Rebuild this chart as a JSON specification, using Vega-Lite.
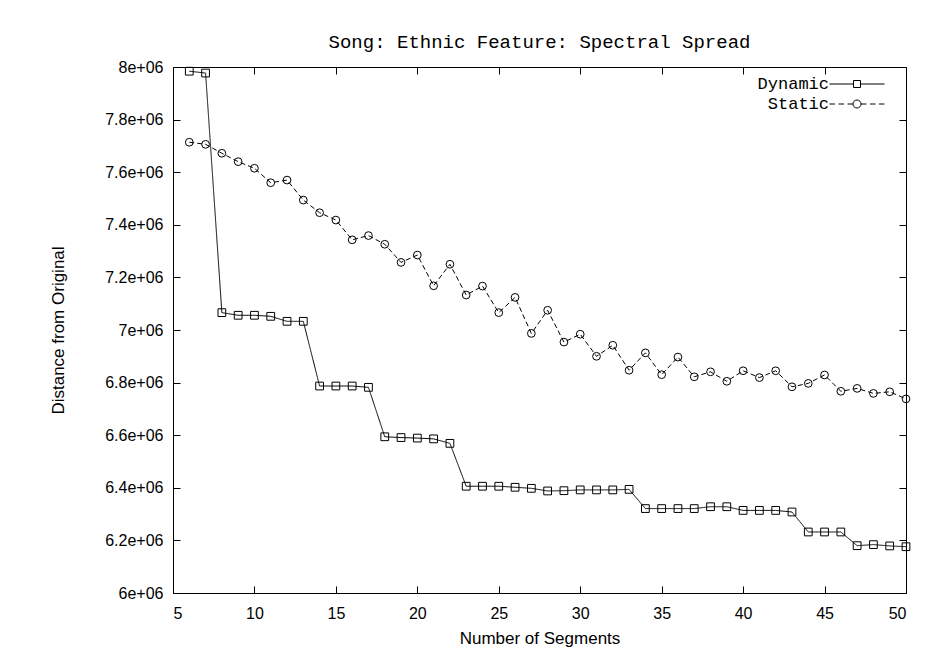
{
  "$schema": "https://vega.github.io/schema/vega-lite/v6.json",
  "width": 733,
  "height": 526,
  "autosize": {"type": "none"},
  "padding": {"left": 173, "top": 67, "right": 26, "bottom": 62},
  "background": "white",
  "title": {
    "text": "Song: Ethnic Feature: Spectral Spread",
    "font": "Liberation Mono",
    "fontSize": 19,
    "fontWeight": "normal",
    "color": "black",
    "anchor": "middle",
    "baseline": "alphabetic",
    "offset": -8
  },
  "config": {
    "view": {"stroke": "black", "strokeWidth": 1},
    "axis": {
      "grid": false,
      "domainColor": "black",
      "tickColor": "black",
      "labelColor": "black",
      "titleColor": "black",
      "labelFont": "Liberation Sans",
      "labelFontSize": 16,
      "titleFont": "Liberation Sans",
      "titleFontSize": 17,
      "titleFontWeight": "normal"
    }
  },
  "data": {
    "values": [
      {"n": 6, "series": "Dynamic", "value": 7984000},
      {"n": 7, "series": "Dynamic", "value": 7977000},
      {"n": 8, "series": "Dynamic", "value": 7066000},
      {"n": 9, "series": "Dynamic", "value": 7056000},
      {"n": 10, "series": "Dynamic", "value": 7056000},
      {"n": 11, "series": "Dynamic", "value": 7052000},
      {"n": 12, "series": "Dynamic", "value": 7033000},
      {"n": 13, "series": "Dynamic", "value": 7033000},
      {"n": 14, "series": "Dynamic", "value": 6787000},
      {"n": 15, "series": "Dynamic", "value": 6787000},
      {"n": 16, "series": "Dynamic", "value": 6787000},
      {"n": 17, "series": "Dynamic", "value": 6782000},
      {"n": 18, "series": "Dynamic", "value": 6594000},
      {"n": 19, "series": "Dynamic", "value": 6591000},
      {"n": 20, "series": "Dynamic", "value": 6589000},
      {"n": 21, "series": "Dynamic", "value": 6586000},
      {"n": 22, "series": "Dynamic", "value": 6569000},
      {"n": 23, "series": "Dynamic", "value": 6406000},
      {"n": 24, "series": "Dynamic", "value": 6406000},
      {"n": 25, "series": "Dynamic", "value": 6406000},
      {"n": 26, "series": "Dynamic", "value": 6402000},
      {"n": 27, "series": "Dynamic", "value": 6398000},
      {"n": 28, "series": "Dynamic", "value": 6388000},
      {"n": 29, "series": "Dynamic", "value": 6389000},
      {"n": 30, "series": "Dynamic", "value": 6392000},
      {"n": 31, "series": "Dynamic", "value": 6392000},
      {"n": 32, "series": "Dynamic", "value": 6392000},
      {"n": 33, "series": "Dynamic", "value": 6394000},
      {"n": 34, "series": "Dynamic", "value": 6321000},
      {"n": 35, "series": "Dynamic", "value": 6321000},
      {"n": 36, "series": "Dynamic", "value": 6321000},
      {"n": 37, "series": "Dynamic", "value": 6321000},
      {"n": 38, "series": "Dynamic", "value": 6328000},
      {"n": 39, "series": "Dynamic", "value": 6328000},
      {"n": 40, "series": "Dynamic", "value": 6314000},
      {"n": 41, "series": "Dynamic", "value": 6314000},
      {"n": 42, "series": "Dynamic", "value": 6314000},
      {"n": 43, "series": "Dynamic", "value": 6308000},
      {"n": 44, "series": "Dynamic", "value": 6232000},
      {"n": 45, "series": "Dynamic", "value": 6232000},
      {"n": 46, "series": "Dynamic", "value": 6232000},
      {"n": 47, "series": "Dynamic", "value": 6180000},
      {"n": 48, "series": "Dynamic", "value": 6184000},
      {"n": 49, "series": "Dynamic", "value": 6179000},
      {"n": 50, "series": "Dynamic", "value": 6176000},
      {"n": 6, "series": "Static", "value": 7714000},
      {"n": 7, "series": "Static", "value": 7706000},
      {"n": 8, "series": "Static", "value": 7672000},
      {"n": 9, "series": "Static", "value": 7640000},
      {"n": 10, "series": "Static", "value": 7615000},
      {"n": 11, "series": "Static", "value": 7560000},
      {"n": 12, "series": "Static", "value": 7570000},
      {"n": 13, "series": "Static", "value": 7494000},
      {"n": 14, "series": "Static", "value": 7446000},
      {"n": 15, "series": "Static", "value": 7418000},
      {"n": 16, "series": "Static", "value": 7343000},
      {"n": 17, "series": "Static", "value": 7359000},
      {"n": 18, "series": "Static", "value": 7326000},
      {"n": 19, "series": "Static", "value": 7257000},
      {"n": 20, "series": "Static", "value": 7285000},
      {"n": 21, "series": "Static", "value": 7168000},
      {"n": 22, "series": "Static", "value": 7250000},
      {"n": 23, "series": "Static", "value": 7133000},
      {"n": 24, "series": "Static", "value": 7167000},
      {"n": 25, "series": "Static", "value": 7066000},
      {"n": 26, "series": "Static", "value": 7124000},
      {"n": 27, "series": "Static", "value": 6987000},
      {"n": 28, "series": "Static", "value": 7075000},
      {"n": 29, "series": "Static", "value": 6954000},
      {"n": 30, "series": "Static", "value": 6984000},
      {"n": 31, "series": "Static", "value": 6900000},
      {"n": 32, "series": "Static", "value": 6942000},
      {"n": 33, "series": "Static", "value": 6847000},
      {"n": 34, "series": "Static", "value": 6913000},
      {"n": 35, "series": "Static", "value": 6830000},
      {"n": 36, "series": "Static", "value": 6897000},
      {"n": 37, "series": "Static", "value": 6822000},
      {"n": 38, "series": "Static", "value": 6841000},
      {"n": 39, "series": "Static", "value": 6805000},
      {"n": 40, "series": "Static", "value": 6845000},
      {"n": 41, "series": "Static", "value": 6819000},
      {"n": 42, "series": "Static", "value": 6845000},
      {"n": 43, "series": "Static", "value": 6784000},
      {"n": 44, "series": "Static", "value": 6797000},
      {"n": 45, "series": "Static", "value": 6829000},
      {"n": 46, "series": "Static", "value": 6767000},
      {"n": 47, "series": "Static", "value": 6778000},
      {"n": 48, "series": "Static", "value": 6759000},
      {"n": 49, "series": "Static", "value": 6765000},
      {"n": 50, "series": "Static", "value": 6738000}
    ]
  },
  "layer": [
    {
      "mark": {"type": "line", "color": "black", "strokeWidth": 1},
      "encoding": {
        "x": {
          "field": "n",
          "type": "quantitative",
          "scale": {"domain": [5, 50], "nice": false, "zero": false},
          "axis": {
            "orient": "bottom",
            "values": [5, 10, 15, 20, 25, 30, 35, 40, 45, 50],
            "tickSize": -7,
            "labelPadding": 19,
            "title": "Number of Segments",
            "titlePadding": 9
          }
        },
        "y": {
          "field": "value",
          "type": "quantitative",
          "scale": {"domain": [6000000, 8000000], "nice": false, "zero": false},
          "axis": {
            "orient": "left",
            "values": [6000000, 6200000, 6400000, 6600000, 6800000, 7000000, 7200000, 7400000, 7600000, 7800000, 8000000],
            "tickSize": -7,
            "labelPadding": 17,
            "labelExpr": "replace(format(datum.value, '.2~e'), 'e+', 'e+0')",
            "title": "Distance from Original",
            "titlePadding": 37
          }
        },
        "detail": {"field": "series", "type": "nominal"},
        "strokeDash": {
          "condition": {"test": "datum.series === 'Static'", "value": [5, 3]},
          "value": [1, 0]
        }
      }
    },
    {
      "mark": {"type": "point", "filled": false, "strokeWidth": 1, "size": 60, "opacity": 1},
      "encoding": {
        "x": {
          "field": "n",
          "type": "quantitative",
          "scale": {"domain": [5, 50], "nice": false, "zero": false},
          "axis": {
            "orient": "top",
            "values": [5, 10, 15, 20, 25, 30, 35, 40, 45, 50],
            "tickSize": -7,
            "labels": false,
            "title": null
          }
        },
        "y": {
          "field": "value",
          "type": "quantitative",
          "scale": {"domain": [6000000, 8000000], "nice": false, "zero": false},
          "axis": {
            "orient": "right",
            "values": [6000000, 6200000, 6400000, 6600000, 6800000, 7000000, 7200000, 7400000, 7600000, 7800000, 8000000],
            "tickSize": -7,
            "labels": false,
            "title": null
          }
        },
        "shape": {
          "condition": {"test": "datum.series === 'Dynamic'", "value": "square"},
          "value": "circle"
        },
        "color": {
          "field": "series",
          "type": "nominal",
          "scale": {"domain": ["Dynamic", "Static"], "range": ["black", "black"]},
          "legend": {
            "orient": "none",
            "legendX": 675.5,
            "legendY": 8.5,
            "title": null,
            "padding": 0,
            "symbolSize": 100,
            "symbolStrokeWidth": 1,
            "symbolFillColor": "transparent",
            "symbolType": {"expr": "datum.value === 'Dynamic' ? 'M-5.5,0H-0.7M0.7,0H5.5M-0.7,-0.7H0.7V0.7H-0.7Z' : 'M-5.5,0H-4.4M-3.7,0H-2.6M-1.9,0H-0.8M0.8,0H1.9M2.6,0H3.7M4.4,0H5.5M0.8,0A0.8,0.8,0,1,1,-0.8,0A0.8,0.8,0,1,1,0.8,0Z'"},
            "labelFont": "Liberation Mono",
            "labelFontSize": 17,
            "labelColor": "black",
            "labelAlign": "right",
            "labelBaseline": "middle",
            "labelOffset": -36.5,
            "rowPadding": 2,
            "encode": {
              "symbols": {
                "shape": {"value": {"expr": "datum.value === 'Dynamic' ? 'M-5.5,0H-0.7M0.7,0H5.5M-0.7,-0.7H0.7V0.7H-0.7Z' : 'M-5.5,0H-4.4M-3.7,0H-2.6M-1.9,0H-0.8M0.8,0H1.9M2.6,0H3.7M4.4,0H5.5M0.8,0A0.8,0.8,0,1,1,-0.8,0A0.8,0.8,0,1,1,0.8,0Z'"}},
                "fill": {"value": "transparent"},
                "size": {"value": 100},
                "strokeWidth": {"value": 1}
              }
            }
          }
        }
      }
    }
  ]
}
